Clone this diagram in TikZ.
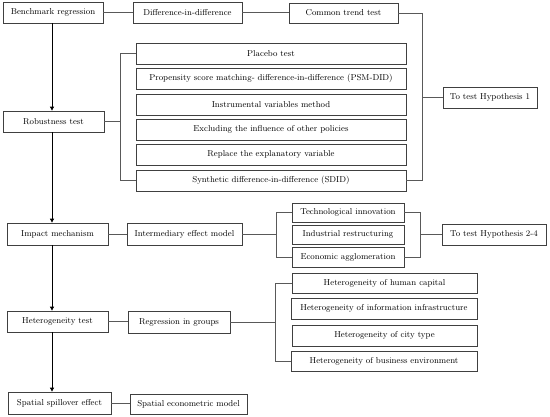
\documentclass[tikz,border=0pt]{standalone}
\usetikzlibrary{arrows.meta}
\begin{document}
\begin{tikzpicture}[x=1pt,y=-1pt,
  box/.style={draw=black!75, line width=0.75pt, rectangle, inner sep=0pt, font=\fontsize{8.6}{10}\selectfont, anchor=center},
  conn/.style={draw=black!65, line width=0.8pt},
  arr/.style={draw=black, line width=0.8pt, -{Triangle[length=4pt,width=4pt]}}]
\useasboundingbox (0,0) rectangle (550,417);
% left column
\node[box, minimum width=100, minimum height=21] (bench) at (53,12.5) {Benchmark regression};
\node[box, minimum width=101, minimum height=21] (rob) at (53.5,121.5) {Robustness test};
\node[box, minimum width=101, minimum height=22] (imp) at (57.5,234) {Impact mechanism};
\node[box, minimum width=101, minimum height=21] (het) at (57.5,321.5) {Heterogeneity test};
\node[box, minimum width=103, minimum height=22] (spat) at (59.5,403) {Spatial spillover effect};
% row 1
\node[box, minimum width=109, minimum height=21] (did) at (187.5,12.5) {Difference-in-difference};
\node[box, minimum width=109, minimum height=20] (ct) at (343.5,13) {Common trend test};
\node[box, minimum width=94, minimum height=21] (h1) at (490,97.5) {To test Hypothesis 1};
% robustness list
\node[box, minimum width=270, minimum height=21] (r1) at (271,53.5) {Placebo test};
\node[box, minimum width=270, minimum height=21] (r2) at (271,78.5) {Propensity score matching- difference-in-difference (PSM-DID)};
\node[box, minimum width=270, minimum height=21] (r3) at (271,104.5) {Instrumental variables method};
\node[box, minimum width=270, minimum height=21] (r4) at (271,129.5) {Excluding the influence of other policies};
\node[box, minimum width=270, minimum height=21] (r5) at (271,154.5) {Replace the explanatory variable};
\node[box, minimum width=270, minimum height=21] (r6) at (271,180.5) {Synthetic difference-in-difference (SDID)};
% impact
\node[box, minimum width=115, minimum height=22] (iem) at (184.5,234) {Intermediary effect model};
\node[box, minimum width=112, minimum height=19] (m1) at (348,212.5) {Technological innovation};
\node[box, minimum width=112, minimum height=19] (m2) at (348,234.5) {Industrial restructuring};
\node[box, minimum width=112, minimum height=20] (m3) at (348,257) {Economic agglomeration};
\node[box, minimum width=104, minimum height=21] (h2) at (494,234.5) {To test Hypothesis 2-4};
% heterogeneity
\node[box, minimum width=102, minimum height=22] (rig) at (179,322) {Regression in groups};
\node[box, minimum width=185, minimum height=20] (g1) at (384.5,283) {Heterogeneity of human capital};
\node[box, minimum width=186, minimum height=21] (g2) at (384,308.5) {Heterogeneity of information infrastructure};
\node[box, minimum width=185, minimum height=21] (g3) at (384.5,335.5) {Heterogeneity of city type};
\node[box, minimum width=186, minimum height=20] (g4) at (384,361) {Heterogeneity of business environment};
% spatial
\node[box, minimum width=117, minimum height=20] (sem) at (188.5,404) {Spatial econometric model};
% bracket coordinates
\coordinate (bA) at (422,0);
\coordinate (bR) at (120,0);
\coordinate (bM) at (276,0);
\coordinate (bN) at (420,0);
\coordinate (bG) at (275,0);
% arrows
\draw[arr] (bench.south -| 52,0) -- (rob.north -| 52,0);
\draw[arr] (rob.south -| 52,0) -- (imp.north -| 52,0);
\draw[arr] (imp.south -| 52,0) -- (het.north -| 52,0);
\draw[arr] (het.south -| 52,0) -- (spat.north -| 52,0);
% row 1
\draw[conn] (bench.east) -- (did.west);
\draw[conn] (did.east) -- (did.east -| ct.west);
\draw[conn] (ct.east) -- (ct.east -| bA) -- (r6.east -| bA) -- (r6.east);
\draw[conn] (h1.west -| bA) -- (h1.west);
% robustness
\draw[conn] (r1.west) -- (r1.west -| bR) -- (r6.west -| bR) -- (r6.west);
\draw[conn] (rob.east) -- (rob.east -| bR);
% impact
\draw[conn] (imp.east) -- (iem.west);
\draw[conn] (iem.east) -- (iem.east -| bM);
\draw[conn] (m1.west) -- (m1.west -| bM) -- (m3.west -| bM) -- (m3.west);
\draw[conn] (m1.east) -- (m1.east -| bN) -- (m3.east -| bN) -- (m3.east);
\draw[conn] (h2.west -| bN) -- (h2.west);
% heterogeneity
\draw[conn] (het.east) -- (het.east -| rig.west);
\draw[conn] (rig.east) -- (rig.east -| bG);
\draw[conn] (g1.west) -- (g1.west -| bG) -- (g4.west -| bG) -- (g4.west);
% spatial
\draw[conn] (spat.east) -- (spat.east -| sem.west);
\end{tikzpicture}
\end{document}
